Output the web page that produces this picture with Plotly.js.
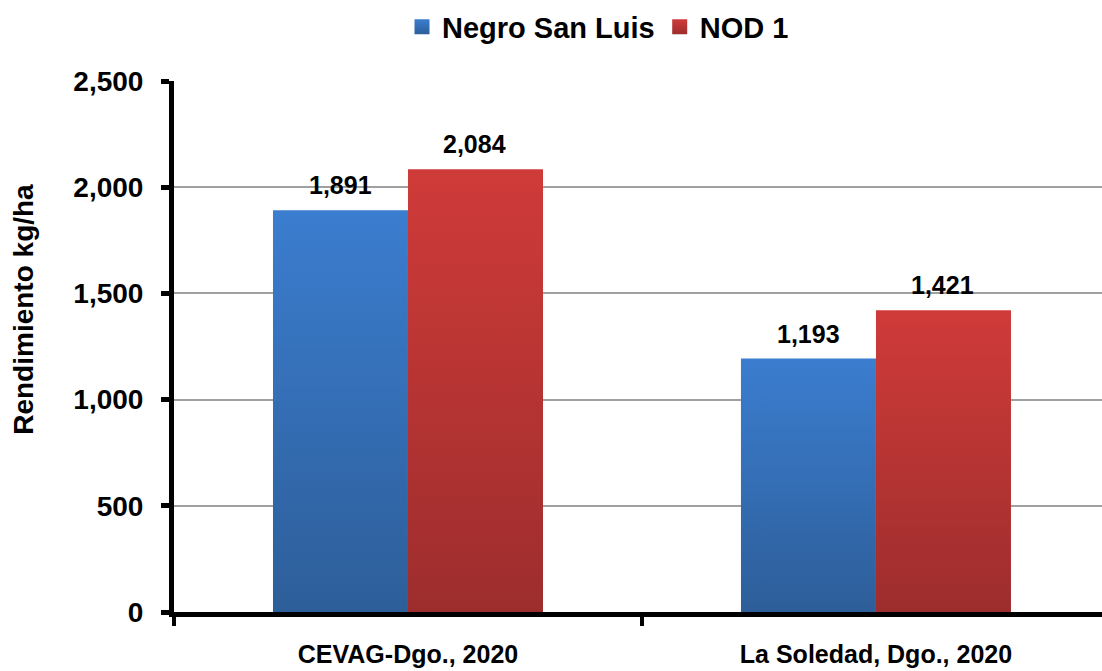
<!DOCTYPE html>
<html>
<head>
<meta charset="utf-8">
<script src="https://cdn.plot.ly/plotly-3.0.1.min.js"></script>
<style>html,body{margin:0;padding:0;background:#fff;}#chart{width:1102px;height:671px;}</style>
</head>
<body>
<div id="chart"></div>
<script>
const categories = ["CEVAG-Dgo., 2020", "La Soledad, Dgo., 2020"];
const seriesNames = ["Negro San Luis", "NOD 1"];
const negroSanLuis = [1891, 1193];
const nod1 = [2084, 1421];
const labelsNegro = ["1,891", "1,193"];
const labelsNod = ["2,084", "1,421"];
const yTickVals = [0, 500, 1000, 1500, 2000, 2500];
const yTickText = ["0", "500", "1,000", "1,500", "2,000", "2,500"];

const FONT = "Liberation Sans, Arial, Helvetica, sans-serif";
const BAR_HALF = 67; // px offset for value labels

const traces = [
  {type: "bar", name: seriesNames[0], x: categories, y: negroSanLuis,
   marker: {color: "#3670b8", line: {width: 0}}, hoverinfo: "none"},
  {type: "bar", name: seriesNames[1], x: categories, y: nod1,
   marker: {color: "#b83533", line: {width: 0}}, hoverinfo: "none"}
];

const annotations = [];
categories.forEach((c, i) => {
  annotations.push({x: c, y: negroSanLuis[i], xref: "x", yref: "y", text: labelsNegro[i],
    showarrow: false, xshift: -BAR_HALF, yanchor: "bottom", yshift: 9,
    font: {family: FONT, size: 25, color: "#000", weight: "bold"}});
  annotations.push({x: c, y: nod1[i], xref: "x", yref: "y", text: labelsNod[i],
    showarrow: false, xshift: BAR_HALF, yanchor: "bottom", yshift: 9,
    font: {family: FONT, size: 25, color: "#000", weight: "bold"}});
});
annotations.push({text: "Rendimiento kg/ha", xref: "paper", yref: "paper",
  x: (24 - 174) / 928, y: (612.5 - 310) / 531.5, xanchor: "center", yanchor: "middle", textangle: -90,
  showarrow: false, font: {family: FONT, size: 28, color: "#000", weight: "bold"}});

const layout = {
  width: 1102, height: 671,
  margin: {l: 174, r: 0, t: 81, b: 58.5, pad: 0},
  paper_bgcolor: "#fff", plot_bgcolor: "#fff",
  barmode: "group", bargap: 0.423, bargroupgap: 0,
  showlegend: true,
  legend: {orientation: "h", xref: "container", yref: "container",
    x: 598 / 1102, y: 1 - 27 / 671, xanchor: "center", yanchor: "middle",
    font: {family: FONT, size: 29, color: "#000", weight: "bold"},
    itemclick: false, itemdoubleclick: false, traceorder: "normal"},
  xaxis: {type: "category", range: [-0.5, 1.483], fixedrange: true,
    showline: true, linecolor: "#000", linewidth: 5,
    ticks: "outside", tickson: "boundaries", ticklen: 9, tickwidth: 4, tickcolor: "#000",
    ticklabelstandoff: 16, showgrid: false, zeroline: false, automargin: false,
    tickfont: {family: FONT, size: 25, color: "#000", weight: "bold"}},
  yaxis: {range: [0, 2500], fixedrange: true, tickvals: yTickVals, ticktext: yTickText,
    showline: true, linecolor: "#000", linewidth: 5,
    ticks: "outside", ticklen: 8, tickwidth: 5, tickcolor: "#000",
    ticklabelstandoff: 12,
    showgrid: true, gridcolor: "#a0a0a0", gridwidth: 2, zeroline: false, automargin: false,
    tickfont: {family: FONT, size: 28, color: "#000", weight: "bold"}},
  annotations: annotations
};

Plotly.newPlot("chart", traces, layout, {staticPlot: true, displayModeBar: false}).then(gd => {
  const svgNS = "http://www.w3.org/2000/svg";
  const svg = gd.querySelector("svg.main-svg");
  let defs = svg.querySelector("defs");
  if (!defs) { defs = document.createElementNS(svgNS, "defs"); svg.insertBefore(defs, svg.firstChild); }
  function addGrad(id, top, bottom) {
    const g = document.createElementNS(svgNS, "linearGradient");
    g.setAttribute("id", id);
    g.setAttribute("x1", "0"); g.setAttribute("y1", "0");
    g.setAttribute("x2", "0"); g.setAttribute("y2", "1");
    [[0, top], [1, bottom]].forEach(([o, c]) => {
      const s = document.createElementNS(svgNS, "stop");
      s.setAttribute("offset", o); s.setAttribute("stop-color", c);
      g.appendChild(s);
    });
    defs.appendChild(g);
  }
  addGrad("gradBlue", "#3b7dcf", "#2d5e99");
  addGrad("gradRed", "#cf3b39", "#9d2d2d");
  const grads = ["url(#gradBlue)", "url(#gradRed)"];
  gd.querySelectorAll(".barlayer .trace.bars").forEach((t, i) => {
    t.querySelectorAll("path").forEach(p => { p.style.fill = grads[i]; });
  });
  gd.querySelectorAll(".legend .traces").forEach((t, i) => {
    t.querySelectorAll(".legendpoints path").forEach(p => {
      p.style.fill = grads[i];
      const d = p.getAttribute("d") || "";
      if (/^M6,6H-6V-6H6Z$/.test(d)) p.setAttribute("d", "M7.5,7.5H-7.5V-7.5H7.5Z");
    });
  });
});
</script>
</body>
</html>
